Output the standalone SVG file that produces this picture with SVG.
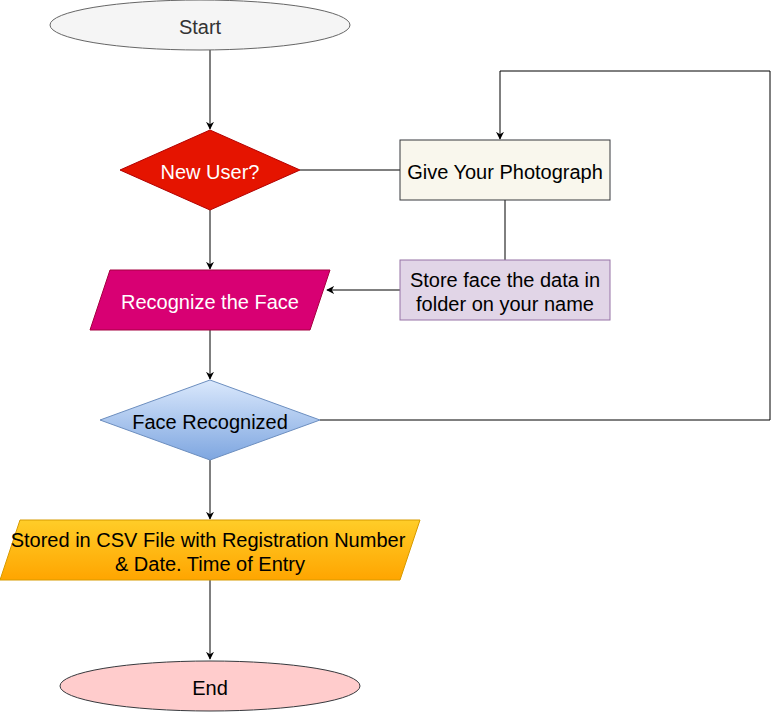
<svg xmlns="http://www.w3.org/2000/svg" width="773" height="712" viewBox="0 0 773 712">
<style>
text{font-family:"Liberation Sans",Arial,sans-serif;font-size:20px;text-anchor:middle;dominant-baseline:central}
.c{fill:none;stroke:#000;stroke-width:1}
</style>
<defs>
<marker id="a" viewBox="0 0 10 10" refX="9" refY="5" markerWidth="8" markerHeight="8" markerUnits="userSpaceOnUse" orient="auto"><path d="M0,0L10,5L0,10L3,5z" fill="#000"/></marker>
<linearGradient id="gb" x1="0" y1="0" x2="0" y2="1"><stop offset="0" stop-color="#dae8fc"/><stop offset="1" stop-color="#7ea6e0"/></linearGradient>
<linearGradient id="go" x1="0" y1="0" x2="0" y2="1"><stop offset="0" stop-color="#ffcd28"/><stop offset="1" stop-color="#ffa500"/></linearGradient>
</defs>
<rect width="773" height="712" fill="#fff"/>
<g id="connectors">
<path class="c" d="M210,50V129" marker-end="url(#a)"/>
<path class="c" d="M300,170H400"/>
<path class="c" d="M505,200V260"/>
<path class="c" d="M400,290H327" marker-end="url(#a)"/>
<path class="c" d="M210,210V269" marker-end="url(#a)"/>
<path class="c" d="M210,330V379" marker-end="url(#a)"/>
<path class="c" d="M320,420H770V71H500V139" marker-end="url(#a)"/>
<path class="c" d="M210,460V519" marker-end="url(#a)"/>
<path class="c" d="M210,580V659" marker-end="url(#a)"/>
</g>
<g id="start"><ellipse cx="200" cy="25" rx="150" ry="25" fill="#f5f5f5" stroke="#666"/><text x="200" y="27" fill="#333">Start</text></g>
<g id="newuser"><path d="M210,130L300,170L210,210L120,170Z" fill="#e51400" stroke="#b20000"/><text x="210" y="172" fill="#fff">New User?</text></g>
<g id="photo"><rect x="400" y="140" width="210" height="60" fill="#f9f7ed" stroke="#36393d"/><text x="505" y="172" fill="#000">Give Your Photograph</text></g>
<g id="store"><rect x="400" y="260" width="210" height="60" fill="#e1d5e7" stroke="#9673a6"/><text x="505" y="280" fill="#000">Store face the data in</text><text x="505" y="304" fill="#000">folder on your name</text></g>
<g id="recognize"><path d="M110,270H330L310,330H90Z" fill="#d80073" stroke="#a50040"/><text x="210" y="302" fill="#fff">Recognize the Face</text></g>
<g id="facerec"><path d="M210,380L320,420L210,460L100,420Z" fill="url(#gb)" stroke="#6c8ebf"/><text x="210" y="422" fill="#000">Face Recognized</text></g>
<g id="csv"><path d="M20,520H420L400,580H0Z" fill="url(#go)" stroke="#d79b00"/><text x="208" y="540" fill="#000">Stored in CSV File with Registration Number</text><text x="210" y="564" fill="#000">&amp; Date. Time of Entry</text></g>
<g id="end"><ellipse cx="210" cy="686" rx="150" ry="25" fill="#ffcccc" stroke="#36393d"/><text x="210" y="688" fill="#000">End</text></g>
</svg>
